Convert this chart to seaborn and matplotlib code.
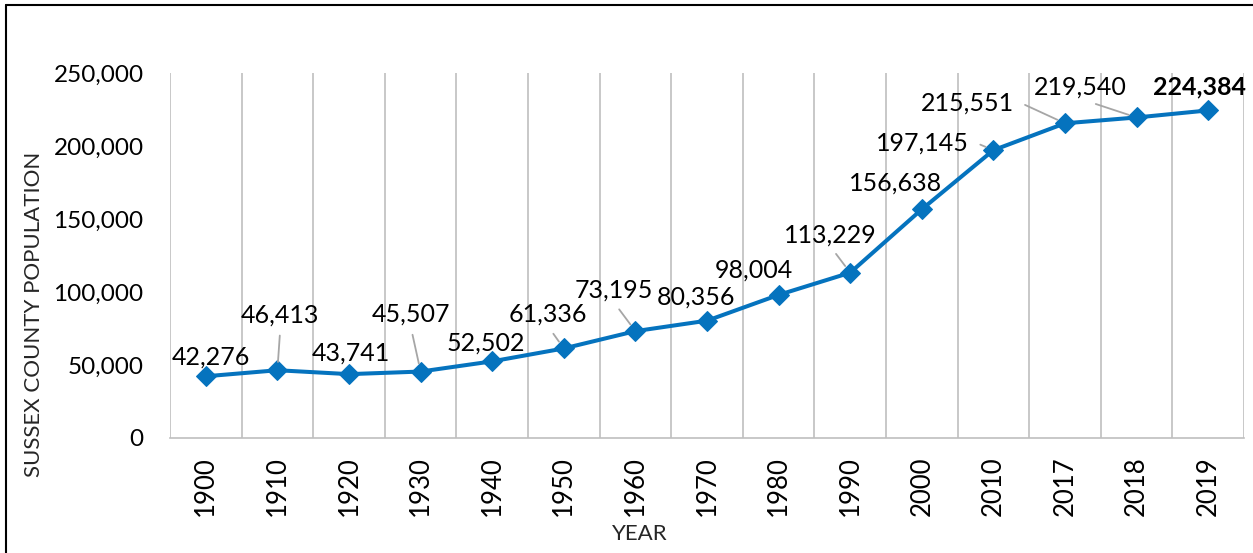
import matplotlib
matplotlib.use("Agg")
import matplotlib.pyplot as plt
import seaborn as sns
import pandas as pd
from matplotlib.lines import Line2D
from matplotlib.ticker import FuncFormatter

years = ["1900", "1910", "1920", "1930", "1940", "1950", "1960", "1970",
         "1980", "1990", "2000", "2010", "2017", "2018", "2019"]
population = [42276, 46413, 43741, 45507, 52502, 61336, 73195, 80356,
              98004, 113229, 156638, 197145, 215551, 219540, 224384]
y_ticks = [0, 50000, 100000, 150000, 200000, 250000]

# label offsets in pixels (dx, dy up)
label_offsets = [(5, 19), (3, 55), (2, 21), (-10, 57), (-6, 18), (-16, 34),
                 (-22, 41), (-11, 24), (-25, 25), (-20, 38), (-26, 26),
                 (-71, 7), (-98, 20), (-56, 30), (-9, 23)]
# leader line styles: None = no leader, "down" = from bottom centre, "side" = elbow from right side
leaders = [None, "down", None, "down", None, "down", "down", None, None, "down",
           None, "side", "side", "down", None]

sns.set_theme(style="white")
plt.rcParams['font.family'] = ['Lato', 'DejaVu Sans']

df = pd.DataFrame({"idx": list(range(len(years))), "pop": population})

fig = plt.figure(figsize=(12.53, 5.53), dpi=100)
ax = fig.add_axes([170 / 1253, 1 - 438 / 553, (1244 - 170) / 1253, (438 - 73) / 553])

blue = "#0573BE"
sns.lineplot(data=df, x="idx", y="pop", ax=ax, color=blue, linewidth=2.9,
             marker="D", markersize=10.5, markeredgecolor=blue, markerfacecolor=blue)

ax.set_xlim(-0.5, len(years) - 0.5)
ax.set_ylim(0, 250000)
ax.set_yticks(y_ticks)
ax.yaxis.set_major_formatter(FuncFormatter(lambda v, p: f"{int(v):,}"))
ax.set_xticks(range(len(years)))
ax.set_xticklabels(years, rotation=90)
ax.set_xticks([i - 0.5 for i in range(len(years) + 1)], minor=True)
ax.grid(False)
ax.grid(True, which="minor", axis="x", color="#BFBFBF", linewidth=1.2)
ax.tick_params(axis="both", which="both", length=0)
ax.tick_params(axis="y", labelsize=17.5, pad=19, colors="black")
ax.tick_params(axis="x", labelsize=18.5, pad=13, colors="black")
for s in ["top", "right", "left"]:
    ax.spines[s].set_visible(False)
ax.spines["bottom"].set_color("#BFBFBF")
ax.spines["bottom"].set_linewidth(1.2)

ax.set_xlabel("YEAR", fontsize=16)
ax.xaxis.set_label_coords((640 - 170) / 1074, -(524 - 438) / 365)
ax.set_ylabel("SUSSEX COUNTY POPULATION", fontsize=16)
ax.yaxis.set_label_coords((44 - 170) / 1074, (438 - 314) / 365)

for i, (v, (dx, dy)) in enumerate(zip(population, label_offsets)):
    kw = dict(xy=(i, v), xytext=(dx, dy), textcoords="offset pixels",
              ha="center", va="center", fontsize=18, color="black",
              fontweight="bold" if i == len(population) - 1 else "normal")
    if leaders[i] == "down":
        kw["arrowprops"] = dict(arrowstyle="-", color="#A6A6A6", lw=1.3,
                                shrinkA=4, shrinkB=6, relpos=(0.5, 0.0))
    elif leaders[i] == "side":
        kw["arrowprops"] = dict(arrowstyle="-", color="#A6A6A6", lw=1.3,
                                shrinkA=6, shrinkB=6, relpos=(1.0, 0.5),
                                connectionstyle="arc,angleA=0,angleB=0,armA=8,armB=0,rad=0")
    ax.annotate(f"{v:,}", **kw)

# outer frame (left and top edges visible)
fig.add_artist(Line2D([6 / 1253, 6 / 1253], [0, 1 - 5 / 553], color="black",
                      linewidth=1.5, transform=fig.transFigure))
fig.add_artist(Line2D([6 / 1253, 1], [1 - 5 / 553, 1 - 5 / 553], color="black",
                      linewidth=1.5, transform=fig.transFigure))

fig.savefig("out.png", dpi=100)
